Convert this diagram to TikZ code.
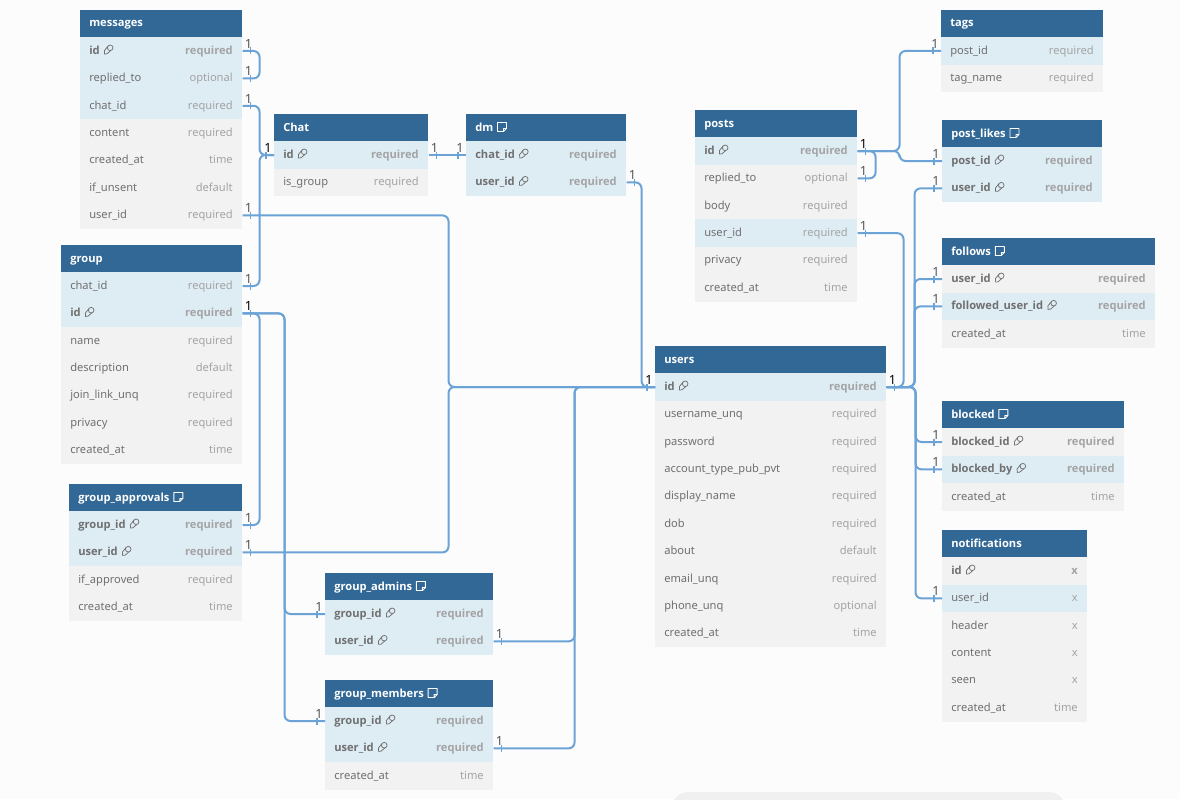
\documentclass[tikz,border=0pt]{standalone}
\usepackage{fontspec}
\usetikzlibrary{calc}
\setmainfont{Noto Sans}[BoldFont={Open Sans Bold}]
\definecolor{bgc}{HTML}{FCFCFC}
\definecolor{hdr}{HTML}{316896}
\definecolor{rowblue}{HTML}{DEECF4}
\definecolor{rowgrey}{HTML}{F2F2F2}
\definecolor{wirec}{HTML}{6BA3D6}
\definecolor{namec}{HTML}{707070}
\definecolor{reqc}{HTML}{A4A4A4}
\definecolor{onec}{HTML}{555555}
\newcommand{\tfs}{\fontsize{8.35}{10}\selectfont}
\tikzset{
  rowbl/.style={fill=rowblue,draw=none},
  rowgr/.style={fill=rowgrey,draw=none},
  hdrbox/.style={fill=hdr,draw=none},
  titletxt/.style={text=white,font=\tfs\bfseries,anchor=base west,inner sep=0pt},
  namen/.style={text=namec,font=\tfs,anchor=base west,inner sep=0pt},
  nameb/.style={text=namec,font=\tfs\bfseries,anchor=base west,inner sep=0pt},
  reqn/.style={text=reqc,font=\tfs,anchor=base east,inner sep=0pt},
  reqb/.style={text=reqc,font=\tfs\bfseries,anchor=base east,inner sep=0pt},
  wire/.style={draw=wirec,line width=1.5pt,rounded corners=4.5pt},
  tickm/.style={draw=wirec,line width=1.2pt},
  onelab/.style={text=onec,font=\fontsize{9.5}{11}\selectfont,inner sep=0pt},
  onedark/.style={text=black,font=\fontsize{9.5}{11}\selectfont,inner sep=0pt},
  iconk/.style={draw=namec,line width=.55pt},
  iconw/.style={draw=white,line width=.7pt,line join=round},
}
\newcount\rowno
\newcount\onecnt
\newcommand{\tbl}[6]{%
  \def\tk{#1}\def\tx{#2}\def\ty{#3}\def\tw{#4}\rowno=0
  \node[hdrbox,anchor=north west,inner sep=0pt,minimum width=#4*0.75pt,minimum height=20.6pt] (#1) at (#2,#3) {};
  \node[titletxt] (#1-t) at (#2+9,#3+17) {#5};
  \if n#6
    \begin{scope}[shift={(#1-t.base east)}]
      \draw[iconw] (4,-8.5) -- (13,-8.5) -- (13,-2.5) -- (10,0.5) -- (4,0.5) -- cycle (13,-2.5) -- (10,-2.5) -- (10,0.5);
    \end{scope}
  \fi
}
\newcommand{\rw}[6]{%
  \pgfmathsetmacro\ry{\ty+41+27.4*\the\rowno}
  \node[row#4,anchor=west,inner sep=0pt,minimum width=\tw*0.75pt,minimum height=20.65pt] (\tk-#1) at (\tx,\ry) {};
  \node[name#5] (\tk-#1-l) at (\tx+9,\ry+3.2) {#2};
  \node[req#5] (\tk-#1-r) at (\tx+\tw-9,\ry+3.2) {#3};
  \if k#6
    \begin{scope}[shift={(\tk-#1-l.base east)}]
      \draw[iconk] (10.2,-6.4) circle (2.8);
      \draw[iconk] (8,-8) -- (4.4,-3.6) -- (4.6,-0.2) -- (7,-0.4) -- (11,-3.8);
    \end{scope}
  \fi
  \advance\rowno by 1
}
\newcommand{\markE}[2][onelab]{%
  \path (#2.east) ++(8,-3.5) coordinate (tka) ++(0,7) coordinate (tkb);
  \draw[tickm] (tka) -- (tkb);
  \advance\onecnt by 1
  \node[#1] (one\the\onecnt) at ($(#2.east)+(6,-7)$) {1};
}
\newcommand{\markW}[2][onelab]{%
  \path (#2.west) ++(-8,-3.5) coordinate (tka) ++(0,7) coordinate (tkb);
  \draw[tickm] (tka) -- (tkb);
  \advance\onecnt by 1
  \node[#1] (one\the\onecnt) at ($(#2.west)+(-6,-7)$) {1};
}
\begin{document}
\begin{tikzpicture}[x=0.75pt,y=-0.75pt]
\useasboundingbox (0,0) rectangle (1180,799);
\fill[bgc] (0,0) rectangle (1180,799);
\fill[rounded corners=12pt,color=black!6] (672,792) rectangle (1065,830);

\tbl{messages}{80}{10}{162}{messages}{o}
\rw{id}{id}{required}{bl}{b}{k}
\rw{replied}{replied\_to}{optional}{bl}{n}{o}
\rw{chat}{chat\_id}{required}{bl}{n}{o}
\rw{content}{content}{required}{gr}{n}{o}
\rw{created}{created\_at}{time}{gr}{n}{o}
\rw{unsent}{if\_unsent}{default}{gr}{n}{o}
\rw{user}{user\_id}{required}{gr}{n}{o}

\tbl{chat}{274}{114}{154}{Chat}{o}
\rw{id}{id}{required}{bl}{b}{k}
\rw{isgroup}{is\_group}{required}{gr}{n}{o}

\tbl{dm}{466}{114}{160}{dm}{n}
\rw{chat}{chat\_id}{required}{bl}{b}{k}
\rw{user}{user\_id}{required}{bl}{b}{k}

\tbl{group}{61}{245}{181}{group}{o}
\rw{chat}{chat\_id}{required}{bl}{n}{o}
\rw{id}{id}{required}{bl}{b}{k}
\rw{name}{name}{required}{gr}{n}{o}
\rw{desc}{description}{default}{gr}{n}{o}
\rw{join}{join\_link\_unq}{required}{gr}{n}{o}
\rw{privacy}{privacy}{required}{gr}{n}{o}
\rw{created}{created\_at}{time}{gr}{n}{o}

\tbl{appr}{69}{484}{173}{group\_approvals}{n}
\rw{group}{group\_id}{required}{bl}{b}{k}
\rw{user}{user\_id}{required}{bl}{b}{k}
\rw{approved}{if\_approved}{required}{gr}{n}{o}
\rw{created}{created\_at}{time}{gr}{n}{o}

\tbl{admins}{325}{573}{168}{group\_admins}{n}
\rw{group}{group\_id}{required}{bl}{b}{k}
\rw{user}{user\_id}{required}{bl}{b}{k}

\tbl{members}{325}{680}{168}{group\_members}{n}
\rw{group}{group\_id}{required}{bl}{b}{k}
\rw{user}{user\_id}{required}{bl}{b}{k}
\rw{created}{created\_at}{time}{gr}{n}{o}

\tbl{posts}{695}{110}{162}{posts}{o}
\rw{id}{id}{required}{bl}{b}{k}
\rw{replied}{replied\_to}{optional}{gr}{n}{o}
\rw{body}{body}{required}{gr}{n}{o}
\rw{user}{user\_id}{required}{bl}{n}{o}
\rw{privacy}{privacy}{required}{gr}{n}{o}
\rw{created}{created\_at}{time}{gr}{n}{o}

\tbl{users}{655}{346}{231}{users}{o}
\rw{id}{id}{required}{bl}{b}{k}
\rw{username}{username\_unq}{required}{gr}{n}{o}
\rw{password}{password}{required}{gr}{n}{o}
\rw{acct}{account\_type\_pub\_pvt}{required}{gr}{n}{o}
\rw{display}{display\_name}{required}{gr}{n}{o}
\rw{dob}{dob}{required}{gr}{n}{o}
\rw{about}{about}{default}{gr}{n}{o}
\rw{email}{email\_unq}{required}{gr}{n}{o}
\rw{phone}{phone\_unq}{optional}{gr}{n}{o}
\rw{created}{created\_at}{time}{gr}{n}{o}

\tbl{tags}{941}{10}{162}{tags}{o}
\rw{post}{post\_id}{required}{bl}{n}{o}
\rw{name}{tag\_name}{required}{gr}{n}{o}

\tbl{likes}{942}{120}{160}{post\_likes}{n}
\rw{post}{post\_id}{required}{bl}{b}{k}
\rw{user}{user\_id}{required}{bl}{b}{k}

\tbl{follows}{942}{238}{213}{follows}{n}
\rw{user}{user\_id}{required}{gr}{b}{k}
\rw{followed}{followed\_user\_id}{required}{bl}{b}{k}
\rw{created}{created\_at}{time}{gr}{n}{o}

\tbl{blocked}{942}{401}{182}{blocked}{n}
\rw{id}{blocked\_id}{required}{gr}{b}{k}
\rw{by}{blocked\_by}{required}{bl}{b}{k}
\rw{created}{created\_at}{time}{gr}{n}{o}

\tbl{notif}{942}{530}{145}{notifications}{o}
\rw{id}{id}{x}{gr}{b}{k}
\rw{user}{user\_id}{x}{bl}{n}{o}
\rw{header}{header}{x}{gr}{n}{o}
\rw{content}{content}{x}{gr}{n}{o}
\rw{seen}{seen}{x}{gr}{n}{o}
\rw{created}{created\_at}{time}{gr}{n}{o}

% connectors, left part
\draw[wire] (messages-id.east) -- ++(17,0) |- (messages-replied.east);
\draw[wire] (messages-chat.east) -- ++(17,0) |- (chat-id.west);
\draw[wire] (group-chat.east) -- ++(17,0) |- (chat-id.west);
\draw[wire] (messages-user.east) -- ++(206,0) |- (users-id.west);
\draw[wire] (chat-id.east) -- (dm-chat.west);
\draw[wire] (dm-user.east) -- ++(15,0) |- (users-id.west);
\draw[wire] (group-id.east) -- ++(17,0) |- (appr-group.east);
\draw[wire] (group-id.east) -- ++(42,0) |- (admins-group.west);
\draw[wire] (group-id.east) -- ++(42,0) |- (members-group.west);
\draw[wire] (appr-user.east) -- ++(206,0) |- (users-id.west);
\draw[wire] (admins-user.east) -- ++(81,0) |- (users-id.west);
\draw[wire] (members-user.east) -- ++(81,0) |- (users-id.west);
% connectors, right part
\draw[wire] (posts-id.east) -- ++(18,0) |- (posts-replied.east);
\draw[wire] (posts-id.east) -- ++(42,0) |- (tags-post.west);
\draw[wire] (posts-id.east) -- ++(42,0) |- (likes-post.west);
\draw[wire] (posts-user.east) -- ++(46,0) |- (users-id.east);
\draw[wire] (users-id.east) -- ++(28,0) |- (likes-user.west);
\draw[wire] (users-id.east) -- ++(28,0) |- (follows-user.west);
\draw[wire] (users-id.east) -- ++(28,0) |- (follows-followed.west);
\draw[wire] (users-id.east) -- ++(29,0) |- (blocked-id.west);
\draw[wire] (users-id.east) -- ++(29,0) |- (blocked-by.west);
\draw[wire] (users-id.east) -- ++(29,0) |- (notif-user.west);

% end marks
\markE{messages-id}\markE{messages-replied}\markE{messages-chat}\markE{messages-user}
\markW[onedark]{chat-id}\markE{chat-id}\markW{dm-chat}\markE{dm-user}
\markE{group-chat}\markE[onedark]{group-id}\markE{appr-group}\markE{appr-user}
\markW{admins-group}\markE{admins-user}\markW{members-group}\markE{members-user}
\markE[onedark]{posts-id}\markE{posts-replied}\markE{posts-user}
\markW{tags-post}\markW{likes-post}\markW{likes-user}
\markW{follows-user}\markW{follows-followed}
\markW{blocked-id}\markW{blocked-by}\markW{notif-user}
\markW[onedark]{users-id}\markE[onedark]{users-id}
\end{tikzpicture}
\end{document}
